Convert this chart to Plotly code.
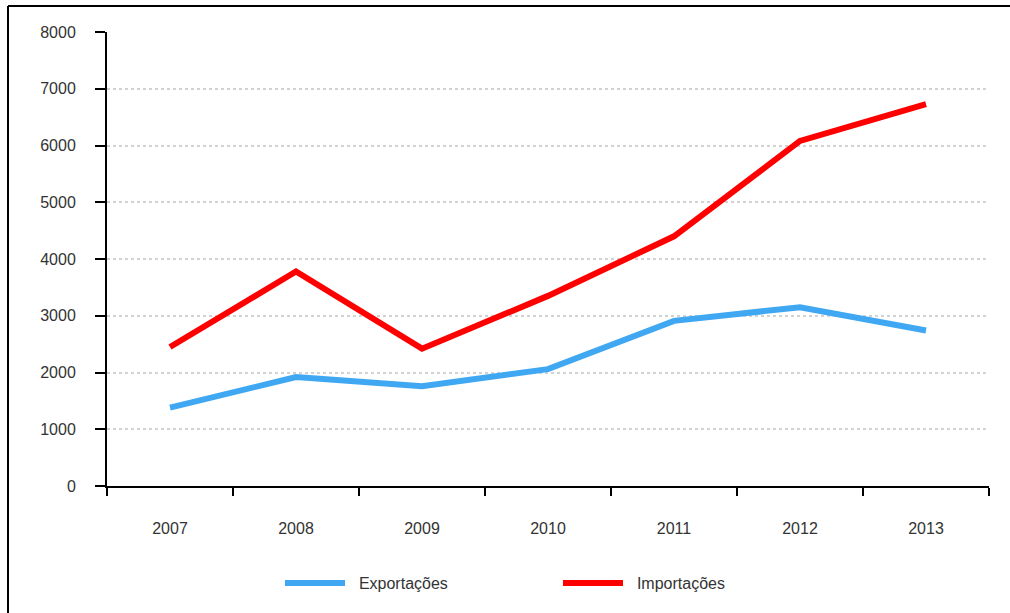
import plotly.graph_objects as go

years = ["2007", "2008", "2009", "2010", "2011", "2012", "2013"]
exportacoes = [1380, 1920, 1760, 2060, 2910, 3150, 2740]
importacoes = [2450, 3780, 2420, 3350, 4400, 6080, 6730]
y_ticks = [0, 1000, 2000, 3000, 4000, 5000, 6000, 7000, 8000]

FONT = "Liberation Sans, Arial, Helvetica, sans-serif"
TXT = "#333333"
PAD = "\u00a0\u00a0"

fig = go.Figure()
fig.add_trace(go.Scatter(x=years, y=exportacoes, name=PAD + "Exportações", mode="lines",
                         line=dict(color="#40A8F3", width=6)))
fig.add_trace(go.Scatter(x=years, y=importacoes, name=PAD + "Importações", mode="lines",
                         line=dict(color="#FF0000", width=6)))

L, R, T, B = 107, 21, 32, 127
W, H = 1010, 613
pw, ph = W - L - R, H - T - B

def px_x(p):
    return (p - L) / pw

def px_y(p):
    return (H - B - p) / ph

fig.update_layout(
    width=W, height=H,
    margin=dict(l=L, r=R, t=T, b=B, autoexpand=False),
    paper_bgcolor="white", plot_bgcolor="white",
    font=dict(family=FONT, size=16, color=TXT),
    showlegend=True,
    legend=dict(orientation="h", x=px_x(280), y=px_y(583), xanchor="left", yanchor="middle",
                entrywidth=203, entrywidthmode="pixels", itemwidth=60,
                font=dict(family=FONT, size=16, color=TXT), bgcolor="rgba(0,0,0,0)"),
    xaxis=dict(type="category", range=[-0.5, 6.5], tickson="boundaries", ticks="outside",
               ticklen=8, tickwidth=2, tickcolor="black", showline=True, linecolor="black",
               linewidth=2, showgrid=False, ticklabelstandoff=27, fixedrange=True),
    yaxis=dict(range=[0, 8000], tickvals=y_ticks, ticks="outside", ticklen=10, tickwidth=2,
               tickcolor="black", showline=True, linecolor="black", linewidth=2,
               showgrid=True, gridcolor="#d2d2d2", gridwidth=1.5, griddash="dot",
               zeroline=False, ticklabelstandoff=16, fixedrange=True),
    shapes=[
        dict(type="line", xref="paper", yref="paper", x0=px_x(8), x1=px_x(1020),
             y0=px_y(6), y1=px_y(6), line=dict(color="black", width=2)),
        dict(type="line", xref="paper", yref="paper", x0=px_x(8), x1=px_x(8),
             y0=px_y(6), y1=px_y(620), line=dict(color="black", width=2)),
    ],
)

fig.write_html("out.html")
